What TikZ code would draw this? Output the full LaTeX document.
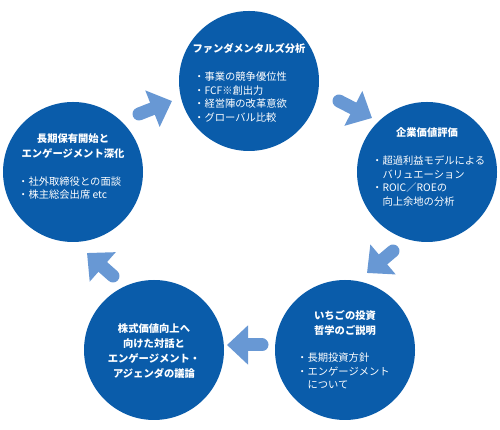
\documentclass[tikz,border=0pt]{standalone}
\usepackage{fontspec}
\newfontfamily\jp{Noto Sans CJK JP}
\usetikzlibrary{arrows.meta}
\definecolor{stageblue}{RGB}{10,92,170}
\definecolor{flowblue}{RGB}{104,152,212}

\begin{document}
\begin{tikzpicture}[x=1pt, y=1pt,
    stage/.style={circle, fill=stageblue, minimum size=140pt, inner sep=0pt},
    stagetitle/.style={text=white, align=center, inner sep=0pt, font=\jp\bfseries\fontsize{10.3}{15}\selectfont},
    stagepoints/.style={text=white, align=left, anchor=west, inner sep=0pt, font=\jp\fontsize{10.3}{13.5}\selectfont},
    flow/.style={flowblue, line width=13pt, line cap=round, -{Triangle[length=21pt, width=38pt]}}]

    % Page
    \useasboundingbox (0,0) rectangle (500,430);

    % Circles
    \node[stage] (fund)   at (249,349) {};
    \node[stage] (value)  at (427,258) {};
    \node[stage] (phil)   at (345,80)  {};
    \node[stage] (dialog) at (154,80)  {};
    \node[stage] (hold)   at (73,258)  {};

    % Titles
    \node[stagetitle] (fundtitle)   at ([yshift=32]fund.center)   {ファンダメンタルズ分析};
    \node[stagetitle] (valuetitle)  at ([yshift=39]value.center)  {企業価値評価};
    \node[stagetitle] (philtitle)   at ([yshift=27]phil.center)   {いちごの投資\\哲学のご説明};
    \node[stagetitle] (dialogtitle) at ([yshift=-1]dialog.center) {株式価値向上へ\\向けた対話と\\エンゲージメント・\\アジェンダの議論};
    \node[stagetitle] (holdtitle)   at ([yshift=26]hold.center)   {長期保有開始と\\エンゲージメント深化};

    % Points
    \node[stagepoints] (fundpoints)  at ([xshift=-55,yshift=-16]fund.center)
        {・事業の競争優位性\\・FCF※創出力\\・経営陣の改革意欲\\・グローバル比較};
    \node[stagepoints] (valuepoints) at ([xshift=-55,yshift=-9]value.center)
        {・超過利益モデルによる\\　バリュエーション\\・ROIC／ROEの\\　向上余地の分析};
    \node[stagepoints] (philpoints)  at ([xshift=-48,yshift=-21]phil.center)
        {・長期投資方針\\・エンゲージメント\\　について};
    \node[stagepoints] (holdpoints)  at ([xshift=-55,yshift=-16]hold.center)
        {・社外取締役との面談\\・株主総会出席 etc};

    % Arrows
    \coordinate (a1s) at (139,316); \coordinate (a1e) at (172,329);
    \coordinate (a2s) at (339,329); \coordinate (a2e) at (372,312);
    \coordinate (a3s) at (393,179); \coordinate (a3e) at (367,157);
    \coordinate (a4s) at (262,85);  \coordinate (a4e) at (227,85);
    \coordinate (a5s) at (113,154); \coordinate (a5e) at (87,177);
    \foreach \i in {1,...,5} {
        \draw[flow] (a\i s) -- (a\i e);
    }
\end{tikzpicture}
\end{document}
